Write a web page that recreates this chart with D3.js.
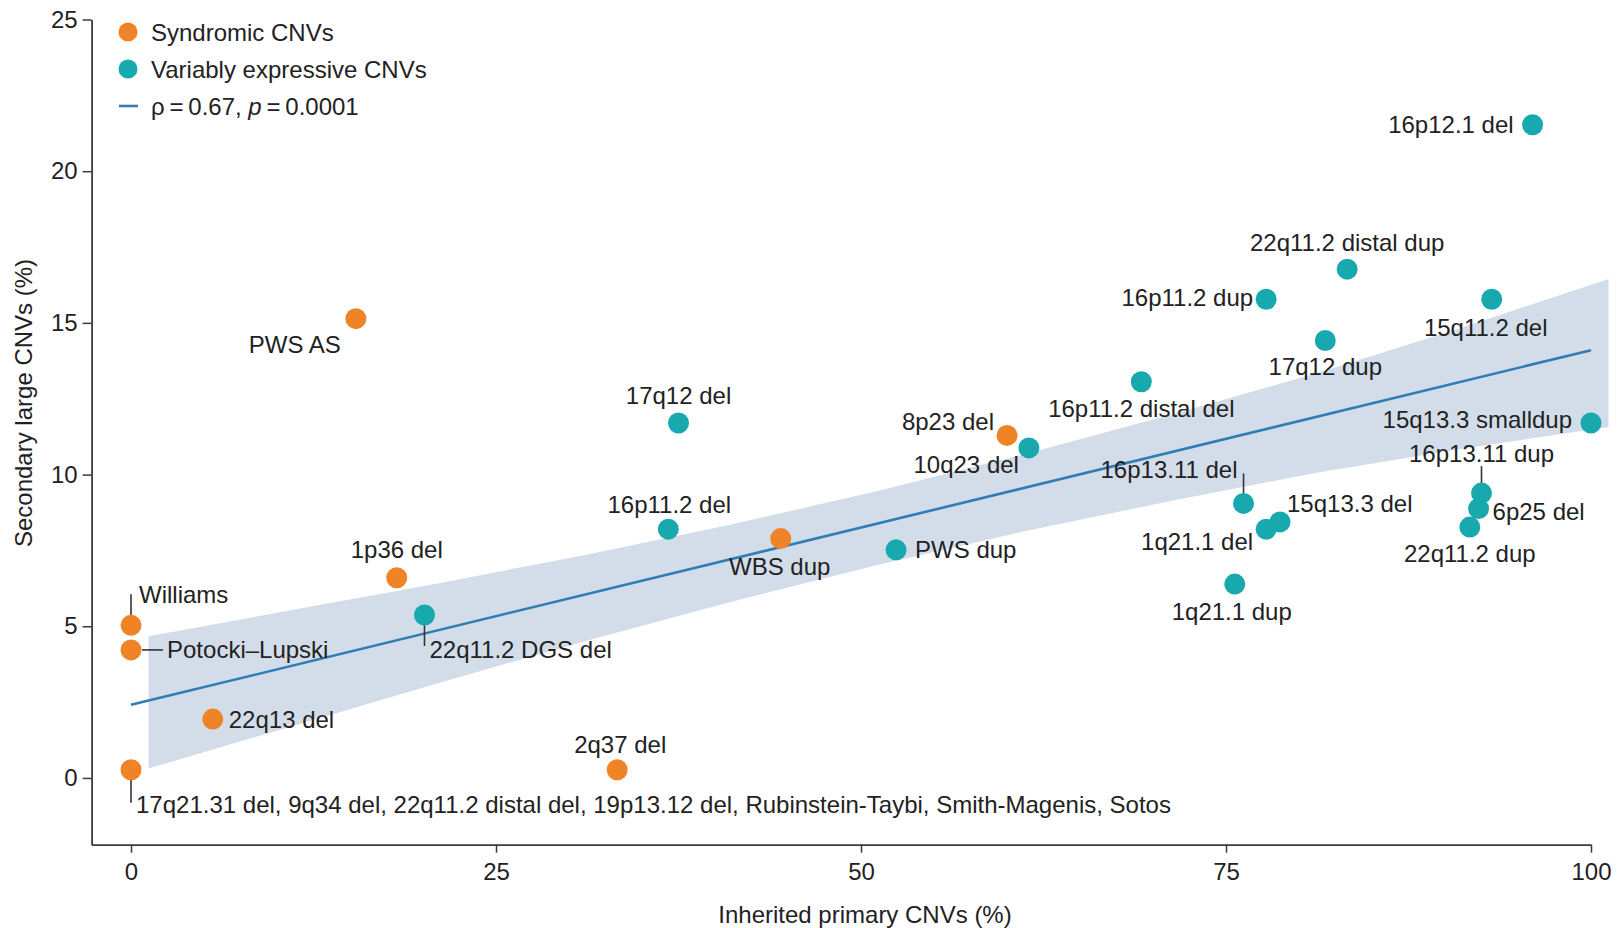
<!DOCTYPE html>
<html>
<head>
<meta charset="utf-8">
<script src="https://cdn.jsdelivr.net/npm/d3@7"></script>
<style>
  html, body { margin: 0; padding: 0; background: #fff; }
  svg { display: block; font-family: "Liberation Sans", Arial, Helvetica, sans-serif; }
</style>
</head>
<body>
<svg id="chart" width="1618" height="928"></svg>
<script>
// ---- Data -------------------------------------------------------------
// Syndromic CNVs: inherited primary CNVs (%) vs secondary large CNVs (%)
const syndromicNames = [
  "Williams", "Potocki–Lupski", "22q13 del",
  "17q21.31 del, 9q34 del, 22q11.2 distal del, 19p13.12 del, Rubinstein-Taybi, Smith-Magenis, Sotos",
  "2q37 del", "1p36 del", "PWS AS", "WBS dup", "8p23 del"
];
const syndromicX = [0, 0, 5.6, 0, 33.3, 18.2, 15.4, 44.5, 60.0];
const syndromicY = [5.03, 4.22, 1.94, 0.27, 0.27, 6.6, 15.14, 7.89, 11.29];

// Variably expressive CNVs
const variableNames = [
  "22q11.2 DGS del", "16p11.2 del", "17q12 del", "PWS dup", "10q23 del",
  "16p11.2 distal del", "16p11.2 dup", "22q11.2 distal dup", "17q12 dup",
  "15q11.2 del", "16p12.1 del", "15q13.3 smalldup", "16p13.11 del",
  "15q13.3 del", "1q21.1 del", "1q21.1 dup", "16p13.11 dup", "6p25 del",
  "22q11.2 dup"
];
const variableX = [20.1, 36.8, 37.5, 52.4, 61.5, 69.2, 77.75, 83.3, 81.8,
                   93.2, 96.0, 100, 76.2, 78.7, 77.75, 75.6, 92.5, 92.3, 91.7];
const variableY = [5.37, 8.2, 11.7, 7.52, 10.88, 13.06, 15.78, 16.77, 14.42,
                   15.78, 21.53, 11.7, 9.05, 8.44, 8.2, 6.39, 9.39, 8.88, 8.27];

// Fitted regression line and its confidence band
const fitX = [0, 100];
const fitY = [2.41, 14.1];
const bandX     = [1.2, 11.2, 21.2, 31.2, 41.2, 51.2, 61.2, 71.2, 81.2, 91.2, 101.2];
const bandLower = [0.31, 1.73, 3.15, 4.52, 5.82, 7.03, 8.13, 9.13, 10.06, 10.85, 11.57];
const bandUpper = [4.67, 5.55, 6.43, 7.36, 8.36, 9.47, 10.67, 11.97, 13.34, 14.85, 16.45];

// Axis ticks
const xTicks = [0, 25, 50, 75, 100];
const yTicks = [0, 5, 10, 15, 20, 25];

// Legend entries
const legendLabels = ["Syndromic CNVs", "Variably expressive CNVs"];

// ---- Label placement (pixel offsets from each point) ------------------
// anchor: text-anchor; dx/dy: offset of the text's vertical middle;
// lead: optional leader segment [x1, y1, x2, y2] relative to the point.
const labelPlacement = {
  "Williams":           { anchor: "start",  dx: 8,   dy: -31, lead: [0, -10, 0, -31] },
  "Potocki–Lupski":     { anchor: "start",  dx: 36,  dy: 0,   lead: [11, 0, 32, 0] },
  "22q13 del":          { anchor: "start",  dx: 16,  dy: 0 },
  "17q21.31 del, 9q34 del, 22q11.2 distal del, 19p13.12 del, Rubinstein-Taybi, Smith-Magenis, Sotos":
                        { anchor: "start",  dx: 5,   dy: 35,  lead: [0, 10, 0, 33] },
  "2q37 del":           { anchor: "middle", dx: 3,   dy: -25 },
  "1p36 del":           { anchor: "middle", dx: 0,   dy: -28 },
  "PWS AS":             { anchor: "end",    dx: -15, dy: 26 },
  "WBS dup":            { anchor: "middle", dx: -1,  dy: 28 },
  "8p23 del":           { anchor: "end",    dx: -13, dy: -14 },
  "22q11.2 DGS del":    { anchor: "start",  dx: 5,   dy: 34,  lead: [0, 10, 0, 31] },
  "16p11.2 del":        { anchor: "middle", dx: 1,   dy: -25 },
  "17q12 del":          { anchor: "middle", dx: 0,   dy: -27 },
  "PWS dup":            { anchor: "start",  dx: 19,  dy: 0 },
  "10q23 del":          { anchor: "end",    dx: -10, dy: 17 },
  "16p11.2 distal del": { anchor: "middle", dx: 0,   dy: 27 },
  "16p11.2 dup":        { anchor: "end",    dx: -13, dy: -2 },
  "22q11.2 distal dup": { anchor: "middle", dx: 0,   dy: -27 },
  "17q12 dup":          { anchor: "middle", dx: 0,   dy: 26 },
  "15q11.2 del":        { anchor: "middle", dx: -6,  dy: 28 },
  "16p12.1 del":        { anchor: "end",    dx: -19, dy: 0 },
  "15q13.3 smalldup":   { anchor: "end",    dx: -19, dy: -3 },
  "16p13.11 del":       { anchor: "end",    dx: -6,  dy: -34, lead: [0, -10, 0, -30] },
  "15q13.3 del":        { anchor: "start",  dx: 7,   dy: -18 },
  "1q21.1 del":         { anchor: "end",    dx: -13, dy: 12 },
  "1q21.1 dup":         { anchor: "middle", dx: -3,  dy: 27 },
  "16p13.11 dup":       { anchor: "middle", dx: 0,   dy: -40, lead: [0, -10, 0, -27] },
  "6p25 del":           { anchor: "start",  dx: 14,  dy: 3 },
  "22q11.2 dup":        { anchor: "middle", dx: 0,   dy: 26 }
};

// ---- Styles -----------------------------------------------------------
const ORANGE = "#EF8427";
const TEAL   = "#18A9AE";
const LINE   = "#2F7DB4";
const BAND   = "#D3DDE9";
const INK    = "#222";
const FONT   = 24;
const R      = 10.5;

// ---- Layout -----------------------------------------------------------
const svg = d3.select("#chart");
const x = d3.scaleLinear().domain([-2.7, 100]).range([91.6, 1591]);
const y = d3.scaleLinear().domain([-2.2, 25]).range([844.7, 19.5]);

const points = [
  ...syndromicNames.map((n, i) => ({ name: n, x: syndromicX[i], y: syndromicY[i], color: ORANGE })),
  ...variableNames.map((n, i) => ({ name: n, x: variableX[i], y: variableY[i], color: TEAL }))
];

// Confidence band
const band = bandX.map((v, i) => ({ x: v, lo: bandLower[i], hi: bandUpper[i] }));
svg.append("path")
  .datum(band)
  .attr("fill", BAND)
  .attr("d", d3.area().x(d => x(d.x)).y0(d => y(d.lo)).y1(d => y(d.hi)));

// Regression line
svg.append("path")
  .datum(fitX.map((v, i) => [v, fitY[i]]))
  .attr("fill", "none")
  .attr("stroke", LINE)
  .attr("stroke-width", 2.6)
  .attr("d", d3.line().x(d => x(d[0])).y(d => y(d[1])));

// Axes
const xAxis = svg.append("g")
  .attr("transform", `translate(0,${y(-2.2)})`)
  .call(d3.axisBottom(x).tickValues(xTicks).tickSize(8).tickSizeOuter(0).tickPadding(10));
const yAxis = svg.append("g")
  .attr("transform", `translate(${x(-2.7)},0)`)
  .call(d3.axisLeft(y).tickValues(yTicks).tickSize(9).tickSizeOuter(0).tickPadding(5));
[xAxis, yAxis].forEach(g => {
  g.select(".domain").attr("stroke", "#3a3a3a").attr("stroke-width", 1.8);
  g.selectAll(".tick line").attr("stroke", "#3a3a3a").attr("stroke-width", 1.5);
  g.selectAll(".tick text")
    .attr("fill", INK)
    .attr("font-size", 24)
    .attr("font-family", "Liberation Sans, Arial, sans-serif");
});

// Axis titles
svg.append("text")
  .attr("x", 865).attr("y", 914)
  .attr("text-anchor", "middle").attr("dominant-baseline", "central")
  .attr("font-size", FONT).attr("fill", INK)
  .text("Inherited primary CNVs (%)");
svg.append("text")
  .attr("transform", "translate(23,403) rotate(-90)")
  .attr("text-anchor", "middle").attr("dominant-baseline", "central")
  .attr("font-size", FONT).attr("fill", INK)
  .text("Secondary large CNVs (%)");

// Leader lines
const leaders = svg.append("g").attr("stroke", "#333").attr("stroke-width", 1.6);
points.forEach(p => {
  const lp = labelPlacement[p.name];
  if (lp && lp.lead) {
    leaders.append("line")
      .attr("x1", x(p.x) + lp.lead[0]).attr("y1", y(p.y) + lp.lead[1])
      .attr("x2", x(p.x) + lp.lead[2]).attr("y2", y(p.y) + lp.lead[3]);
  }
});

// Points
svg.append("g")
  .selectAll("circle")
  .data(points)
  .join("circle")
  .attr("cx", d => x(d.x))
  .attr("cy", d => y(d.y))
  .attr("r", R)
  .attr("fill", d => d.color);

// Point labels
svg.append("g")
  .selectAll("text")
  .data(points)
  .join("text")
  .attr("x", d => x(d.x) + labelPlacement[d.name].dx)
  .attr("y", d => y(d.y) + labelPlacement[d.name].dy)
  .attr("text-anchor", d => labelPlacement[d.name].anchor)
  .attr("dominant-baseline", "central")
  .attr("font-size", FONT)
  .attr("fill", INK)
  .text(d => d.name);

// Legend
const legend = svg.append("g");
const legendColors = [ORANGE, TEAL];
legendLabels.forEach((lab, i) => {
  const ly = 32 + i * 37;
  legend.append("circle").attr("cx", 128).attr("cy", ly).attr("r", 9.5).attr("fill", legendColors[i]);
  legend.append("text")
    .attr("x", 151).attr("y", ly)
    .attr("dominant-baseline", "central")
    .attr("font-size", FONT).attr("fill", INK)
    .text(lab);
});
legend.append("line")
  .attr("x1", 119).attr("x2", 138).attr("y1", 106).attr("y2", 106)
  .attr("stroke", LINE).attr("stroke-width", 2.6);
const stat = legend.append("text")
  .attr("x", 151).attr("y", 106)
  .attr("dominant-baseline", "central")
  .attr("font-size", FONT).attr("fill", INK);
stat.append("tspan").text("ρ\u2009=\u20090.67, ");
stat.append("tspan").attr("font-style", "italic").text("p");
stat.append("tspan").text("\u2009=\u20090.0001");
</script>
</body>
</html>
